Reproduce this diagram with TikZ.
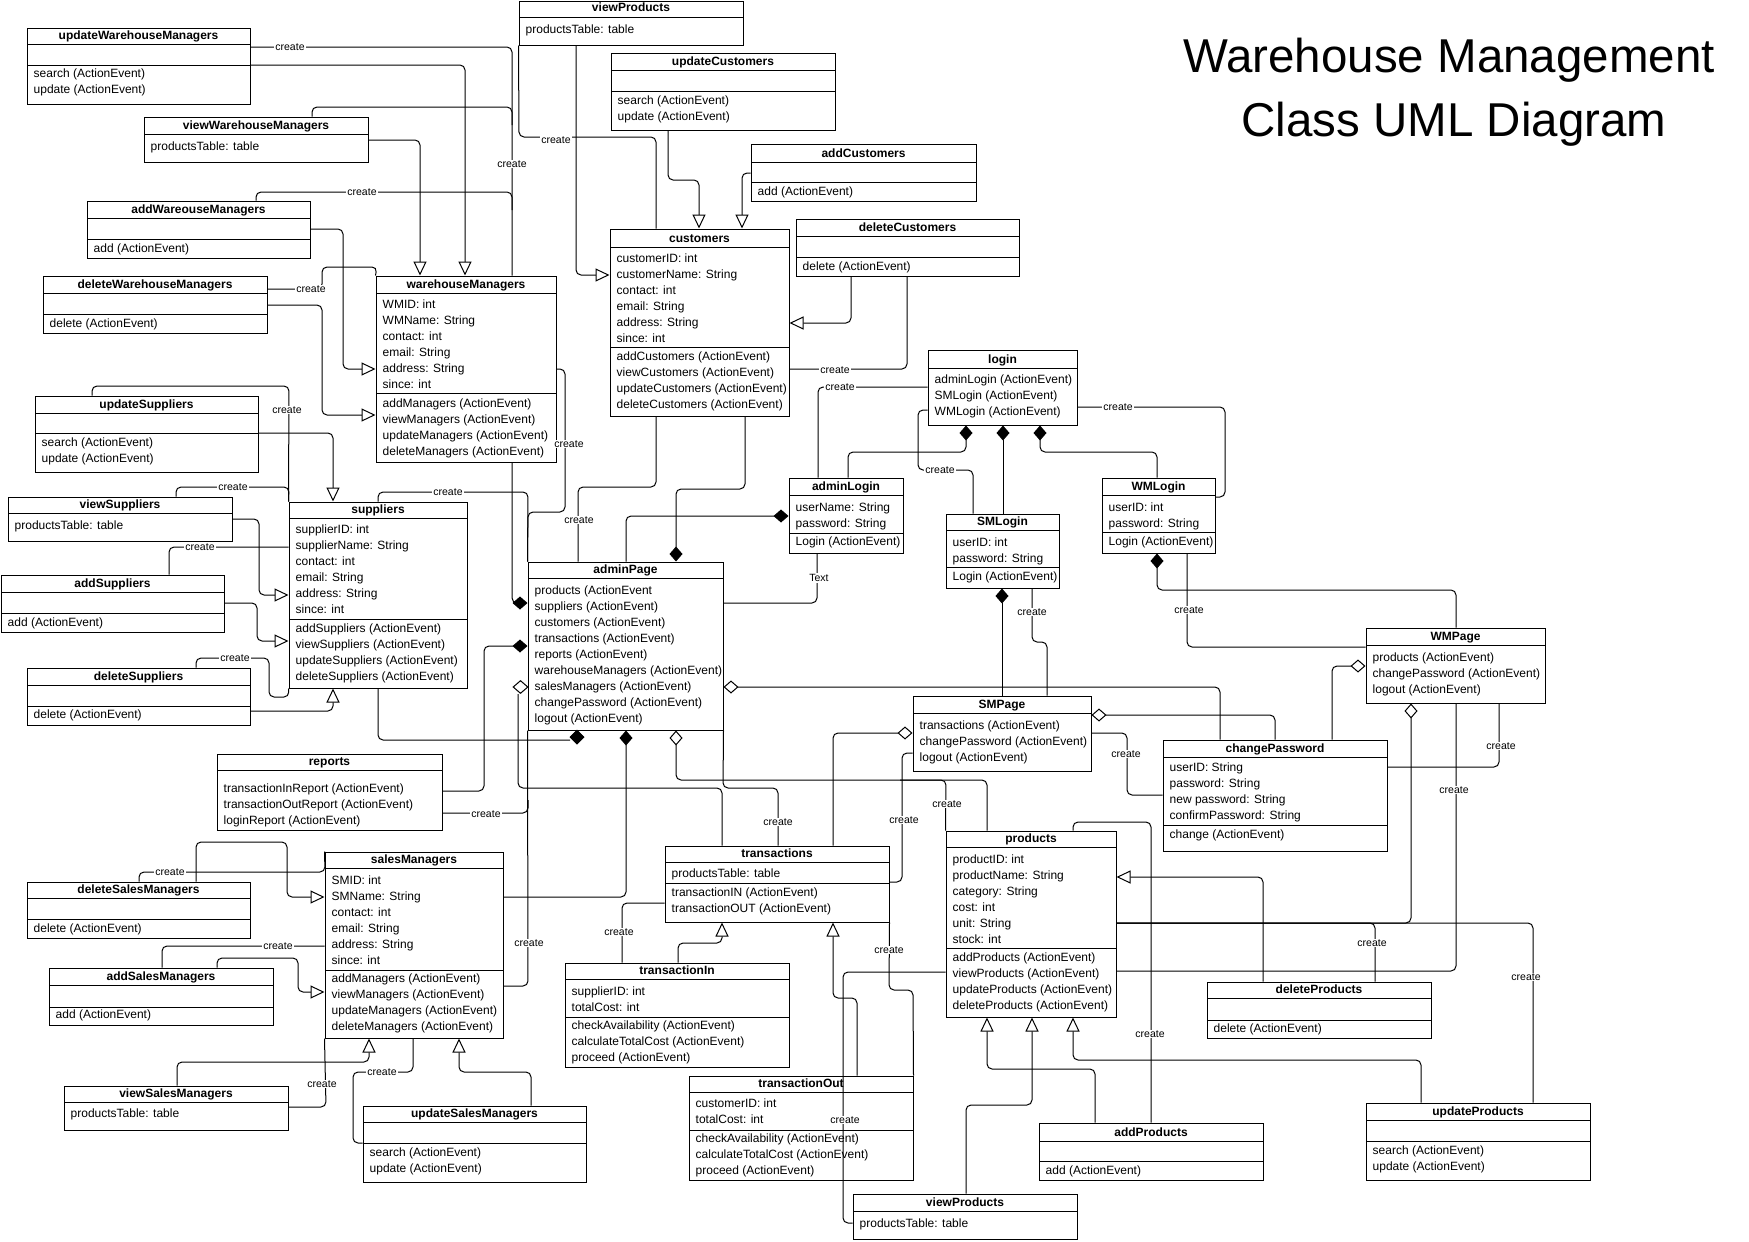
\documentclass[tikz,border=0pt]{standalone}
\usepackage{fontspec}
\setmainfont{Liberation Sans}
\usetikzlibrary{arrows.meta,fit,shapes.geometric}
\tikzset{
  box/.style={draw, line width=1pt, inner sep=0pt, fill=white},
  sepline/.style={line width=1pt},
  txt/.style={inner sep=0pt, anchor=base west, font=\fontsize{12}{14}\selectfont},
  ttl/.style={inner sep=0pt, anchor=base, font=\fontsize{12}{14}\selectfont\bfseries},
  conn/.style={line width=1pt, rounded corners=5pt},
  gen/.style={conn, -{Triangle[open, length=14pt, width=13pt, fill=white]}},
  comp/.style={conn, -{Diamond[length=15pt, width=13pt]}},
  agg/.style={conn, -{Diamond[open, length=15pt, width=13pt, fill=white]}},
  lbl/.style={fill=white, inner sep=1pt, font=\fontsize{10.5}{12}\selectfont},
  dia/.style={diamond, draw, line width=1pt, inner sep=0pt, minimum width=14pt, minimum height=14pt},
}
\newcommand\cls[7]{%
  \node[box, fit={(#2,#3) (#4,#5)}] (#1) {};
  \draw[sepline] (#2,#6) -- (#4,#6);
  \node[ttl] (#1-t) at ({(#2+#4)/2},{#6-5}) {#7};
}
\newcommand\sepl[3]{\draw[sepline] (#1,#3) -- (#2,#3);}
\newcommand\crows[4]{%
  \foreach \rowtxt [count=\rowi from 0] in {#4} {\node[txt] (#1\rowi) at ({#2+6.5},{#3+4+16*\rowi}) {\rowtxt};}
}
\begin{document}
\begin{tikzpicture}[x=1pt,y=-1pt]
\useasboundingbox (0,0) rectangle (1749,1242);
\fill[white] (0,0) rectangle (1749,1242);

% ---------- title
\node[font=\fontsize{47.5}{56}\selectfont, anchor=base, inner sep=0pt] (title1) at (1449,72) {Warehouse Management};
\node[font=\fontsize{47.5}{56}\selectfont, anchor=base, inner sep=0pt] (title2) at (1454,136) {Class UML Diagram};

% ---------- classes
\cls{uwm}{27}{28}{250}{104}{44}{updateWarehouseManagers}
\sepl{27}{250}{65}
\crows{uwmm}{27}{73}{search (ActionEvent),update (ActionEvent)}

\cls{vwm}{144}{117}{368}{162}{134}{viewWarehouseManagers}
\crows{vwma}{144}{146}{productsTable: table}

\cls{awm}{87}{201}{310}{258}{218}{addWareouseManagers}
\sepl{87}{310}{239}
\crows{awmm}{87}{248}{add (ActionEvent)}

\cls{dwm}{43}{276}{267}{333}{293}{deleteWarehouseManagers}
\sepl{43}{267}{314}
\crows{dwmm}{43}{323}{delete (ActionEvent)}

\cls{wm}{376}{276}{556}{462}{293}{warehouseManagers}
\crows{wma}{376}{304}{WMID: int,WMName: String,contact: int,email: String,address: String,since: int}
\sepl{376}{556}{393}
\crows{wmm}{376}{403}{addManagers (ActionEvent),viewManagers (ActionEvent),updateManagers (ActionEvent),deleteManagers (ActionEvent)}

\cls{vp1}{519}{1}{743}{45}{17}{viewProducts}
\crows{vp1a}{519}{29}{productsTable: table}

\cls{uc}{611}{53}{835}{130}{70}{updateCustomers}
\sepl{611}{835}{91}
\crows{ucm}{611}{100}{search (ActionEvent),update (ActionEvent)}

\cls{ac}{751}{144}{976}{201}{162}{addCustomers}
\sepl{751}{976}{182}
\crows{acm}{751}{191}{add (ActionEvent)}

\cls{dc}{796}{219}{1019}{276}{236}{deleteCustomers}
\sepl{796}{1019}{257}
\crows{dcm}{796}{266}{delete (ActionEvent)}

\cls{cus}{610}{229}{789}{416}{247}{customers}
\crows{cusa}{610}{258}{customerID: int,customerName: String,contact: int,email: String,address: String,since: int}
\sepl{610}{789}{347}
\crows{cusm}{610}{356}{addCustomers (ActionEvent),viewCustomers (ActionEvent),updateCustomers (ActionEvent),deleteCustomers (ActionEvent)}

\cls{us}{35}{396}{258}{472}{413}{updateSuppliers}
\sepl{35}{258}{433}
\crows{usm}{35}{442}{search (ActionEvent),update (ActionEvent)}

\cls{vs}{8}{497}{232}{541}{513}{viewSuppliers}
\crows{vsa}{8}{525}{productsTable: table}

\cls{as}{1}{575}{224}{632}{592}{addSuppliers}
\sepl{1}{224}{613}
\crows{asm}{1}{622}{add (ActionEvent)}

\cls{ds}{27}{668}{250}{725}{685}{deleteSuppliers}
\sepl{27}{250}{706}
\crows{dsm}{27}{714}{delete (ActionEvent)}

\cls{sup}{289}{502}{467}{688}{518}{suppliers}
\crows{supa}{289}{529}{supplierID: int,supplierName: String,contact: int,email: String,address: String,since: int}
\sepl{289}{467}{619}
\crows{supm}{289}{628}{addSuppliers (ActionEvent),viewSuppliers (ActionEvent),updateSuppliers (ActionEvent),deleteSuppliers (ActionEvent)}

\cls{rep}{217}{754}{442}{830}{770}{reports}
\crows{repm}{217}{788}{transactionInReport (ActionEvent),transactionOutReport (ActionEvent),loginReport (ActionEvent)}

\cls{ap}{528}{562}{723}{730}{578}{adminPage}
\crows{apm}{528}{590}{products (ActionEvent,suppliers (ActionEvent),customers (ActionEvent),transactions (ActionEvent),reports (ActionEvent),warehouseManagers (ActionEvent),salesManagers (ActionEvent),changePassword (ActionEvent),logout (ActionEvent)}

\cls{login}{928}{350}{1077}{425}{368}{login}
\crows{loginm}{928}{379}{adminLogin (ActionEvent),SMLogin (ActionEvent),WMLogin (ActionEvent)}

\cls{al}{789}{478}{903}{553}{495}{adminLogin}
\crows{ala}{789}{507}{userName: String,password: String}
\sepl{789}{903}{533}
\crows{alm}{789}{541}{Login (ActionEvent)}

\cls{sml}{946}{514}{1059}{588}{530}{SMLogin}
\crows{smla}{946}{542}{userID: int,password: String}
\sepl{946}{1059}{567}
\crows{smlm}{946}{576}{Login (ActionEvent)}

\cls{wml}{1102}{478}{1215}{553}{495}{WMLogin}
\crows{wmla}{1102}{507}{userID: int,password: String}
\sepl{1102}{1215}{532}
\crows{wmlm}{1102}{541}{Login (ActionEvent)}

\cls{smp}{913}{696}{1091}{771}{713}{SMPage}
\crows{smpm}{913}{725}{transactions (ActionEvent),changePassword (ActionEvent),logout (ActionEvent)}

\cls{wmp}{1366}{628}{1545}{703}{645}{WMPage}
\crows{wmpm}{1366}{657}{products (ActionEvent),changePassword (ActionEvent),logout (ActionEvent)}

\cls{cp}{1163}{740}{1387}{851}{757}{changePassword}
\crows{cpa}{1163}{767}{userID: String,password: String,new password: String,confirmPassword: String}
\sepl{1163}{1387}{825}
\crows{cpm}{1163}{834}{change (ActionEvent)}

\cls{prod}{946}{831}{1116}{1017}{847}{products}
\crows{proda}{946}{859}{productID: int,productName: String,category: String,cost: int,unit: String,stock: int}
\sepl{946}{1116}{948}
\crows{prodm}{946}{957}{addProducts (ActionEvent),viewProducts (ActionEvent),updateProducts (ActionEvent),deleteProducts (ActionEvent)}

\cls{tr}{665}{846}{889}{922}{862}{transactions}
\crows{tra}{665}{873}{productsTable: table}
\sepl{665}{889}{883}
\crows{trm}{665}{892}{transactionIN (ActionEvent),transactionOUT (ActionEvent)}

\cls{tin}{565}{963}{789}{1067}{979}{transactionIn}
\crows{tina}{565}{991}{supplierID: int,totalCost: int}
\sepl{565}{789}{1017}
\crows{tinm}{565}{1025}{checkAvailability (ActionEvent),calculateTotalCost (ActionEvent),proceed (ActionEvent)}

\cls{tout}{689}{1076}{913}{1180}{1092}{transactionOut}
\crows{touta}{689}{1103}{customerID: int,totalCost: int}
\sepl{689}{913}{1130}
\crows{toutm}{689}{1138}{checkAvailability (ActionEvent),calculateTotalCost (ActionEvent),proceed (ActionEvent)}

\cls{vp2}{853}{1194}{1077}{1239}{1211}{viewProducts}
\crows{vp2a}{853}{1223}{productsTable: table}

\cls{apr}{1039}{1123}{1263}{1180}{1141}{addProducts}
\sepl{1039}{1263}{1161}
\crows{aprm}{1039}{1170}{add (ActionEvent)}

\cls{dp}{1207}{982}{1431}{1038}{998}{deleteProducts}
\sepl{1207}{1431}{1020}
\crows{dpm}{1207}{1028}{delete (ActionEvent)}

\cls{up}{1366}{1103}{1590}{1180}{1120}{updateProducts}
\sepl{1366}{1590}{1141}
\crows{upm}{1366}{1150}{search (ActionEvent),update (ActionEvent)}

\cls{sm}{325}{852}{503}{1038}{868}{salesManagers}
\crows{sma}{325}{880}{SMID: int,SMName: String,contact: int,email: String,address: String,since: int}
\sepl{325}{503}{970}
\crows{smm}{325}{978}{addManagers (ActionEvent),viewManagers (ActionEvent),updateManagers (ActionEvent),deleteManagers (ActionEvent)}

\cls{dsmg}{27}{882}{250}{938}{898}{deleteSalesManagers}
\sepl{27}{250}{919}
\crows{dsmgm}{27}{928}{delete (ActionEvent)}

\cls{asmg}{49}{968}{273}{1025}{985}{addSalesManagers}
\sepl{49}{273}{1007}
\crows{asmgm}{49}{1014}{add (ActionEvent)}

\cls{vsmg}{64}{1086}{288}{1130}{1102}{viewSalesManagers}
\crows{vsmga}{64}{1113}{productsTable: table}

\cls{usmg}{363}{1106}{586}{1182}{1122}{updateSalesManagers}
\sepl{363}{586}{1143}
\crows{usmgm}{363}{1152}{search (ActionEvent),update (ActionEvent)}

% ---------- connectors: warehouse managers
\draw[conn] (uwm.east |- 0,47) -- (512,47) -- (wm.north -| 512,0);
\draw[gen] (uwm.east |- 0,65) -- (465,65) -- (wm.north -| 465,0);
\draw[conn] (vwm.north -| 312,0) -- (312,107) -- (512,107) -- (512,125);
\draw[gen] (vwm.east |- 0,140) -- (420,140) -- (wm.north -| 420,0);
\draw[conn] (awm.north -| 256,0) -- (256,192) -- (512,192) -- (512,210);
\draw[gen] (awm.east |- 0,229) -- (343,229) -- (343,369) -- (wm.west |- 0,369);
\draw[conn] (dwm.east |- 0,289) -- (322,289) -- (322,267) -- (377,267) -- (wm.north west);
\draw[gen] (dwm.east |- 0,305) -- (322,305) -- (322,415) -- (wm.west |- 0,415);
\draw[comp] (wm.south -| 512,0) -- (512,603) -- (ap.west |- 0,603);
\draw[conn] (wm.east |- 0,369) -- (565,369) -- (565,512) -- (528,512) -- (ap.north west);

% ---------- suppliers
\draw[conn] (sup.north -| 378,0) -- (378,492) -- (528,492) -- (ap.north west);
\draw[conn] (us.north -| 92,0) -- (92,386) -- (289,386) -- (sup.north west);
\draw[gen] (us.east |- 0,433) -- (333,433) -- (sup.north -| 333,0);
\draw[conn] (vs.north -| 176,0) -- (176,487) -- (289,487) -- (sup.north west);
\draw[gen] (vs.east |- 0,519) -- (259,519) -- (259,595) -- (sup.west |- 0,595);
\draw[conn] (as.north -| 169,0) -- (169,547) -- (sup.west |- 0,547);
\draw[gen] (as.east |- 0,603) -- (257,603) -- (257,641) -- (sup.west |- 0,641);
\draw[conn] (ds.north -| 196,0) -- (196,658) -- (269,658) -- (269,697) -- (289,697) -- (sup.south west);
\draw[gen] (ds.east |- 0,711) -- (333,711) -- (sup.south -| 333,0);
\draw[conn] (sup.south -| 378,0) -- (378,740) -- (570,740);
\node[dia, fill=black] (d1) at (577,737) {};

% ---------- adminPage
\draw[conn] (cus.south -| 656,0) -- (656,487) -- (578,487) -- (ap.north -| 578,0);
\draw[comp] (cus.south -| 745,0) -- (745,489) -- (676,489) -- (ap.north -| 676,0);
\draw[comp] (ap.north -| 626,0) -- (626,516) -- (al.west |- 0,516);
\draw[conn] (ap.east |- 0,603) -- (817,603) -- (al.south -| 817,0);
\draw[comp] (rep.east |- 0,791) -- (484,791) -- (484,646) -- (ap.west |- 0,646);
\draw[conn] (rep.east |- 0,813) -- (528,813) -- (528,800);
\draw[conn] (sm.east |- 0,986) -- (528,986) -- (ap.south west);
\draw[conn] (tr.north -| 722,0) -- (722,788) -- (518,788) -- (518,694);
\node[dia, fill=white, minimum width=15pt, minimum height=13pt] (d2) at (520.5,687) {};
\draw[comp] (sm.east |- 0,897) -- (626,897) -- (ap.south -| 626,0);
\draw[agg] (prod.north -| 987,0) -- (987,780) -- (676,780) -- (ap.south -| 676,0);
\draw[conn] (prod.north west) -- (946,780) -- (900,780);
\draw[conn] (ap.south east) -- (723,788) -- (778,788) -- (tr.north -| 778,0);

% ---------- transactions
\draw[agg] (tr.north -| 833,0) -- (833,733) -- (smp.west |- 0,733);
\draw[conn] (smp.west |- 0,753) -- (902,753) -- (902,882) -- (tr.east |- 0,882);
\draw[conn] (prod.west |- 0,972) -- (843,972) -- (843,1223) -- (vp2.west |- 0,1223);
\draw[gen] (tout.north -| 857,0) -- (857,998) -- (833,998) -- (tr.south -| 833,0);
\draw[gen] (tin.north -| 678,0) -- (678,943) -- (722,943) -- (tr.south -| 722,0);
\draw[conn] (tr.west |- 0,903) -- (622,903) -- (tin.north -| 622,0);
\draw[conn] (tr.south east) -- (889,990) -- (913,990) -- (tout.north east);

% ---------- products
\draw[conn] (prod.north -| 1073,0) -- (1073,822) -- (1151,822) -- (apr.north -| 1151,0);
\draw[gen] (apr.north -| 1095,0) -- (1095,1069) -- (987,1069) -- (prod.south -| 987,0);
\draw[gen] (vp2.north -| 966,0) -- (966,1105) -- (1032,1105) -- (prod.south -| 1032,0);
\draw[gen] (up.north -| 1421,0) -- (1421,1060) -- (1073,1060) -- (prod.south -| 1073,0);
\draw[gen] (dp.north -| 1263,0) -- (1263,877) -- (prod.east |- 0,877);
\draw[conn] (prod.east |- 0,923) -- (1375,923) -- (dp.north -| 1375,0);
\draw[conn] (prod.east |- 0,923) -- (1533,923) -- (up.north -| 1533,0);
\draw[agg] (prod.east |- 0,923) -- (1411,923) -- (wmp.south -| 1411,0);
\draw[conn] (wmp.south -| 1456,0) -- (1456,971) -- (prod.east |- 0,971);

% ---------- login
\draw[comp] (al.north -| 848,0) -- (848,452) -- (966,452) -- (login.south -| 966,0);
\draw[comp] (sml.north -| 1003,0) -- (login.south -| 1003,0);
\draw[comp] (wml.north -| 1157,0) -- (1157,452) -- (1040,452) -- (login.south -| 1040,0);
\draw[conn] (login.west |- 0,387) -- (818,387) -- (al.north -| 818,0);
\draw[conn] (login.east |- 0,407) -- (1225,407) -- (1225,497) -- (wml.east |- 0,497);
\draw[conn] (login.west |- 0,410) -- (918,410) -- (918,470) -- (973,470) -- (sml.north -| 973,0);
\draw[comp] (smp.north -| 1002,0) -- (sml.south -| 1002,0);
\draw[conn] (sml.south -| 1032,0) -- (1032,642) -- (1047,642) -- (smp.north -| 1047,0);
\draw[comp] (wmp.north -| 1456,0) -- (1456,590) -- (1157,590) -- (wml.south -| 1157,0);
\draw[conn] (wml.south -| 1187,0) -- (1187,647) -- (wmp.west |- 0,647);

% ---------- customers
\draw[conn] (dc.south -| 907,0) -- (907,369) -- (cus.east |- 0,369);
\draw[gen] (dc.south -| 851,0) -- (851,323) -- (cus.east |- 0,323);
\draw[gen] (ac.west |- 0,173) -- (742,173) -- (cus.north -| 742,0);
\draw[gen] (uc.south -| 668,0) -- (668,180) -- (699,180) -- (cus.north -| 699,0);
\draw[gen] (vp1.south -| 576,0) -- (576,275) -- (cus.west |- 0,275);
\draw[conn] (vp1.south west) -- (519,137) -- (656,137) -- (cus.north -| 656,0);

% ---------- changePassword
\draw[agg] (cp.north -| 1220,0) -- (1220,687) -- (ap.east |- 0,687);
\draw[agg] (cp.north -| 1275,0) -- (1275,715) -- (smp.east |- 0,715);
\draw[conn] (smp.east |- 0,733) -- (1127,733) -- (1127,795) -- (cp.west |- 0,795);
\draw[agg] (cp.north -| 1332,0) -- (1332,666) -- (wmp.west |- 0,666);
\draw[conn] (wmp.south -| 1499,0) -- (1499,767) -- (cp.east |- 0,767);

% ---------- sales managers
\draw[conn] (dsmg.north -| 139,0) -- (139,872) -- (325,872) -- (sm.north west);
\draw[gen] (dsmg.north -| 196,0) -- (196,842) -- (287,842) -- (287,897) -- (sm.west |- 0,897);
\draw[conn] (asmg.north -| 162,0) -- (162,946) -- (sm.west |- 0,946);
\draw[gen] (asmg.north -| 217,0) -- (217,958) -- (298,958) -- (298,992) -- (sm.west |- 0,992);
\draw[gen] (vsmg.north -| 177,0) -- (177,1062) -- (369,1062) -- (sm.south -| 369,0);
\draw[conn] (vsmg.east |- 0,1107) -- (326,1107) -- (sm.south west);
\draw[conn] (sm.south -| 413,0) -- (413,1072) -- (353,1072) -- (353,1143) -- (usmg.west |- 0,1143);
\draw[gen] (usmg.north -| 531,0) -- (531,1072) -- (459,1072) -- (sm.south -| 459,0);

% ---------- labels
\node[lbl] (c1) at (290,47) {create};
\node[lbl] (c2) at (512,164) {create};
\node[lbl] (c3) at (362,192) {create};
\node[lbl] (c4) at (311,289) {create};
\node[lbl] (c5) at (287,410) {create};
\node[lbl] (c6) at (233,487) {create};
\node[lbl] (c7) at (200,547) {create};
\node[lbl] (c8) at (235,658) {create};
\node[lbl] (c9) at (448,492) {create};
\node[lbl] (c10) at (569,444) {create};
\node[lbl] (c11) at (579,520) {create};
\node[lbl] (c12) at (819,578) {Text};
\node[lbl] (c13) at (486,814) {create};
\node[lbl] (c14) at (529,943) {create};
\node[lbl] (c15) at (778,822) {create};
\node[lbl] (c16) at (947,804) {create};
\node[lbl] (c17) at (904,820) {create};
\node[lbl] (c18) at (845,1120) {create};
\node[lbl] (c19) at (619,932) {create};
\node[lbl] (c20) at (889,950) {create};
\node[lbl] (c21) at (1150,1034) {create};
\node[lbl] (c22) at (1372,943) {create};
\node[lbl] (c23) at (1526,977) {create};
\node[lbl] (c24) at (1454,790) {create};
\node[lbl] (c25) at (840,387) {create};
\node[lbl] (c26) at (1118,407) {create};
\node[lbl] (c27) at (940,470) {create};
\node[lbl] (c28) at (1032,612) {create};
\node[lbl] (c29) at (1189,610) {create};
\node[lbl] (c30) at (835,370) {create};
\node[lbl] (c31) at (556,140) {create};
\node[lbl] (c32) at (1126,754) {create};
\node[lbl] (c33) at (1501,746) {create};
\node[lbl] (c34) at (170,872) {create};
\node[lbl] (c35) at (278,946) {create};
\node[lbl] (c36) at (322,1084) {create};
\node[lbl] (c37) at (382,1072) {create};
\end{tikzpicture}
\end{document}
